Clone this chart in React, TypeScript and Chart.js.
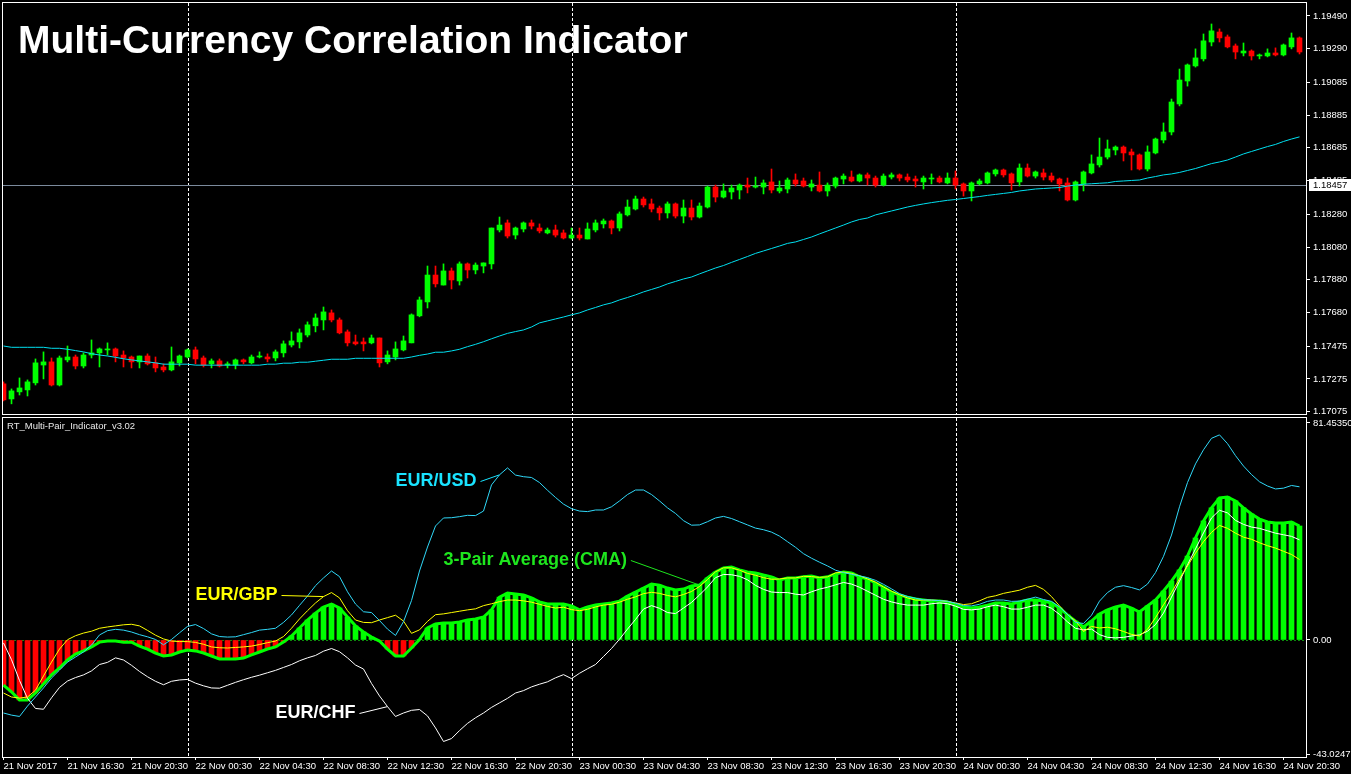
import React, { useEffect, useRef } from "react";
import { Chart, registerables } from "chart.js";

Chart.register(...registerables);

const FONT = '"Liberation Sans", Arial, sans-serif';
const GREEN = "#00ff00";
const RED = "#ff0000";
const MA_COLOR = "#00e0f0";
const USD_COLOR = "#30d8f8";
const GBP_COLOR = "#ffff00";
const CHF_COLOR = "#ffffff";

const TITLE = "Multi-Currency Correlation Indicator";
const INDICATOR_NAME = "RT_Multi-Pair_Indicator_v3.02";

// ---- time axis (M30 bars) ----
const timeTickIdx = [0, 8, 16, 24, 32, 40, 48, 56, 64, 72, 80, 88, 96, 104, 112, 120, 128, 136, 144, 152, 160];
const timeLabels = [
  "21 Nov 2017", "21 Nov 16:30", "21 Nov 20:30", "22 Nov 00:30", "22 Nov 04:30", "22 Nov 08:30", "22 Nov 12:30",
  "22 Nov 16:30", "22 Nov 20:30", "23 Nov 00:30", "23 Nov 04:30", "23 Nov 08:30", "23 Nov 12:30", "23 Nov 16:30",
  "23 Nov 20:30", "24 Nov 00:30", "24 Nov 04:30", "24 Nov 08:30", "24 Nov 12:30", "24 Nov 16:30", "24 Nov 20:30",
];
const daySeparators = [23, 71, 119];

// ---- price panel ----
const priceTicks = [1.1949, 1.1929, 1.19085, 1.18885, 1.18685, 1.18485, 1.1828, 1.1808, 1.1788, 1.1768, 1.17475, 1.17275, 1.17075];
const currentPrice = 1.18457;

const open = [
  1.17245, 1.17153, 1.17196, 1.17208, 1.17251, 1.17360, 1.17379, 1.17238, 1.17391, 1.17409,
  1.17354, 1.17421, 1.17434, 1.17452, 1.17458, 1.17421, 1.17409, 1.17379, 1.17415, 1.17373,
  1.17348, 1.17330, 1.17373, 1.17409, 1.17452, 1.17403, 1.17367, 1.17385, 1.17360, 1.17360,
  1.17391, 1.17373, 1.17409, 1.17409, 1.17403, 1.17434, 1.17482, 1.17501, 1.17543, 1.17599,
  1.17635, 1.17678, 1.17635, 1.17562, 1.17501, 1.17501, 1.17495, 1.17525, 1.17379, 1.17409,
  1.17452, 1.17495, 1.17660, 1.17745, 1.17909, 1.17848, 1.17934, 1.17873, 1.17977, 1.17940,
  1.17964, 1.17977, 1.18184, 1.18227, 1.18153, 1.18190, 1.18227, 1.18196, 1.18166, 1.18184,
  1.18166, 1.18135, 1.18153, 1.18129, 1.18184, 1.18221, 1.18239, 1.18196, 1.18276, 1.18312,
  1.18373, 1.18343, 1.18318, 1.18288, 1.18343, 1.18269, 1.18318, 1.18263, 1.18324, 1.18446,
  1.18385, 1.18416, 1.18428, 1.18458, 1.18446, 1.18446, 1.18477, 1.18422, 1.18434, 1.18489,
  1.18483, 1.18446, 1.18458, 1.18422, 1.18452, 1.18495, 1.18507, 1.18483, 1.18520, 1.18501,
  1.18458, 1.18507, 1.18520, 1.18507, 1.18495, 1.18477, 1.18495, 1.18501, 1.18471, 1.18501,
  1.18465, 1.18422, 1.18465, 1.18471, 1.18526, 1.18550, 1.18526, 1.18477, 1.18562, 1.18513,
  1.18532, 1.18513, 1.18495, 1.18471, 1.18367, 1.18465, 1.18532, 1.18581, 1.18629, 1.18672,
  1.18690, 1.18660, 1.18642, 1.18556, 1.18654, 1.18733, 1.18782, 1.18953, 1.19093, 1.19185,
  1.19228, 1.19331, 1.19392, 1.19362, 1.19307, 1.19264, 1.19276, 1.19246, 1.19246, 1.19264,
  1.19252, 1.19301, 1.19356,
];
const high = [
  1.17257, 1.17214, 1.17281, 1.17269, 1.17397, 1.17440, 1.17403, 1.17415, 1.17476, 1.17421,
  1.17434, 1.17513, 1.17464, 1.17495, 1.17464, 1.17446, 1.17415, 1.17415, 1.17428, 1.17409,
  1.17367, 1.17470, 1.17421, 1.17458, 1.17470, 1.17415, 1.17397, 1.17397, 1.17379, 1.17397,
  1.17397, 1.17421, 1.17440, 1.17428, 1.17452, 1.17507, 1.17562, 1.17580, 1.17623, 1.17672,
  1.17714, 1.17696, 1.17647, 1.17574, 1.17543, 1.17525, 1.17543, 1.17525, 1.17446, 1.17501,
  1.17537, 1.17672, 1.17775, 1.17964, 1.17964, 1.17977, 1.17952, 1.17989, 1.17983, 1.17983,
  1.17983, 1.18196, 1.18263, 1.18245, 1.18202, 1.18233, 1.18245, 1.18221, 1.18196, 1.18214,
  1.18184, 1.18196, 1.18196, 1.18227, 1.18245, 1.18251, 1.18245, 1.18294, 1.18367, 1.18391,
  1.18385, 1.18373, 1.18330, 1.18355, 1.18349, 1.18367, 1.18367, 1.18349, 1.18452, 1.18458,
  1.18465, 1.18458, 1.18465, 1.18501, 1.18507, 1.18489, 1.18556, 1.18483, 1.18501, 1.18526,
  1.18501, 1.18489, 1.18538, 1.18471, 1.18507, 1.18526, 1.18544, 1.18526, 1.18532, 1.18513,
  1.18526, 1.18532, 1.18526, 1.18526, 1.18513, 1.18513, 1.18526, 1.18513, 1.18532, 1.18544,
  1.18471, 1.18477, 1.18495, 1.18538, 1.18556, 1.18556, 1.18532, 1.18587, 1.18587, 1.18544,
  1.18556, 1.18532, 1.18501, 1.18501, 1.18483, 1.18544, 1.18642, 1.18745, 1.18733, 1.18697,
  1.18697, 1.18678, 1.18648, 1.18697, 1.18745, 1.18837, 1.18983, 1.19166, 1.19197, 1.19289,
  1.19380, 1.19441, 1.19411, 1.19374, 1.19319, 1.19325, 1.19283, 1.19258, 1.19289, 1.19295,
  1.19319, 1.19386, 1.19362,
];
const low = [
  1.17141, 1.17123, 1.17177, 1.17171, 1.17238, 1.17275, 1.17232, 1.17232, 1.17379, 1.17336,
  1.17342, 1.17403, 1.17348, 1.17421, 1.17379, 1.17348, 1.17342, 1.17342, 1.17360, 1.17318,
  1.17318, 1.17324, 1.17354, 1.17403, 1.17367, 1.17348, 1.17342, 1.17348, 1.17342, 1.17336,
  1.17367, 1.17367, 1.17403, 1.17379, 1.17385, 1.17409, 1.17470, 1.17464, 1.17531, 1.17562,
  1.17574, 1.17623, 1.17550, 1.17476, 1.17482, 1.17446, 1.17489, 1.17348, 1.17367, 1.17391,
  1.17446, 1.17495, 1.17654, 1.17708, 1.17836, 1.17848, 1.17824, 1.17848, 1.17891, 1.17916,
  1.17922, 1.17946, 1.18172, 1.18135, 1.18129, 1.18172, 1.18190, 1.18166, 1.18160, 1.18141,
  1.18129, 1.18129, 1.18123, 1.18129, 1.18172, 1.18196, 1.18160, 1.18178, 1.18269, 1.18306,
  1.18324, 1.18294, 1.18245, 1.18257, 1.18257, 1.18227, 1.18245, 1.18257, 1.18318, 1.18355,
  1.18379, 1.18373, 1.18373, 1.18410, 1.18440, 1.18404, 1.18410, 1.18410, 1.18410, 1.18452,
  1.18446, 1.18422, 1.18416, 1.18391, 1.18440, 1.18465, 1.18477, 1.18477, 1.18458, 1.18446,
  1.18452, 1.18495, 1.18483, 1.18477, 1.18446, 1.18434, 1.18465, 1.18471, 1.18465, 1.18434,
  1.18391, 1.18361, 1.18458, 1.18465, 1.18513, 1.18507, 1.18428, 1.18452, 1.18507, 1.18501,
  1.18489, 1.18477, 1.18422, 1.18361, 1.18361, 1.18422, 1.18526, 1.18568, 1.18617, 1.18642,
  1.18605, 1.18550, 1.18550, 1.18544, 1.18648, 1.18715, 1.18764, 1.18941, 1.19062, 1.19178,
  1.19215, 1.19307, 1.19331, 1.19295, 1.19228, 1.19246, 1.19221, 1.19228, 1.19240, 1.19246,
  1.19246, 1.19289, 1.19258,
];
const close = [
  1.17147, 1.17202, 1.17220, 1.17257, 1.17373, 1.17379, 1.17238, 1.17403, 1.17409, 1.17354,
  1.17421, 1.17434, 1.17458, 1.17458, 1.17415, 1.17403, 1.17379, 1.17415, 1.17367, 1.17342,
  1.17330, 1.17379, 1.17415, 1.17452, 1.17397, 1.17360, 1.17385, 1.17354, 1.17367, 1.17391,
  1.17379, 1.17409, 1.17415, 1.17397, 1.17440, 1.17489, 1.17507, 1.17556, 1.17605, 1.17647,
  1.17684, 1.17635, 1.17556, 1.17495, 1.17489, 1.17489, 1.17525, 1.17373, 1.17421, 1.17458,
  1.17507, 1.17666, 1.17757, 1.17909, 1.17855, 1.17934, 1.17879, 1.17977, 1.17940, 1.17970,
  1.17983, 1.18196, 1.18214, 1.18147, 1.18196, 1.18227, 1.18208, 1.18178, 1.18184, 1.18153,
  1.18135, 1.18153, 1.18135, 1.18190, 1.18227, 1.18239, 1.18196, 1.18282, 1.18324, 1.18373,
  1.18337, 1.18312, 1.18288, 1.18343, 1.18269, 1.18318, 1.18263, 1.18330, 1.18446, 1.18385,
  1.18422, 1.18440, 1.18458, 1.18446, 1.18452, 1.18471, 1.18428, 1.18440, 1.18489, 1.18465,
  1.18452, 1.18465, 1.18422, 1.18458, 1.18501, 1.18513, 1.18483, 1.18520, 1.18501, 1.18458,
  1.18513, 1.18520, 1.18501, 1.18489, 1.18483, 1.18501, 1.18501, 1.18477, 1.18501, 1.18458,
  1.18422, 1.18471, 1.18483, 1.18532, 1.18550, 1.18520, 1.18471, 1.18562, 1.18513, 1.18538,
  1.18507, 1.18489, 1.18465, 1.18367, 1.18477, 1.18538, 1.18587, 1.18629, 1.18678, 1.18690,
  1.18654, 1.18642, 1.18556, 1.18660, 1.18739, 1.18782, 1.18965, 1.19099, 1.19191, 1.19234,
  1.19338, 1.19399, 1.19356, 1.19301, 1.19270, 1.19276, 1.19246, 1.19252, 1.19264, 1.19252,
  1.19313, 1.19356, 1.19270,
];
const ma = [
  1.17476, 1.17468, 1.17468, 1.17468, 1.17468, 1.17468, 1.17462, 1.17462, 1.17456, 1.17448,
  1.17440, 1.17429, 1.17421, 1.17415, 1.17407, 1.17398, 1.17391, 1.17385, 1.17379, 1.17373,
  1.17365, 1.17365, 1.17365, 1.17365, 1.17359, 1.17359, 1.17359, 1.17359, 1.17359, 1.17359,
  1.17359, 1.17359, 1.17359, 1.17365, 1.17365, 1.17371, 1.17371, 1.17377, 1.17377, 1.17383,
  1.17389, 1.17395, 1.17395, 1.17395, 1.17401, 1.17401, 1.17401, 1.17401, 1.17401, 1.17401,
  1.17401, 1.17409, 1.17419, 1.17427, 1.17438, 1.17438, 1.17446, 1.17456, 1.17472, 1.17486,
  1.17502, 1.17520, 1.17537, 1.17553, 1.17564, 1.17574, 1.17592, 1.17617, 1.17629, 1.17641,
  1.17653, 1.17666, 1.17678, 1.17696, 1.17711, 1.17727, 1.17739, 1.17757, 1.17772, 1.17788,
  1.17806, 1.17821, 1.17836, 1.17855, 1.17870, 1.17885, 1.17897, 1.17916, 1.17934, 1.17952,
  1.17967, 1.17986, 1.18004, 1.18022, 1.18041, 1.18056, 1.18071, 1.18086, 1.18102, 1.18111,
  1.18126, 1.18141, 1.18160, 1.18178, 1.18196, 1.18214, 1.18233, 1.18248, 1.18257, 1.18276,
  1.18288, 1.18300, 1.18312, 1.18324, 1.18334, 1.18343, 1.18351, 1.18358, 1.18365, 1.18370,
  1.18376, 1.18382, 1.18388, 1.18395, 1.18401, 1.18407, 1.18413, 1.18422, 1.18428, 1.18434,
  1.18437, 1.18440, 1.18443, 1.18452, 1.18458, 1.18463, 1.18466, 1.18469, 1.18472, 1.18480,
  1.18483, 1.18486, 1.18489, 1.18501, 1.18510, 1.18520, 1.18526, 1.18535, 1.18547, 1.18559,
  1.18574, 1.18589, 1.18599, 1.18611, 1.18629, 1.18648, 1.18663, 1.18678, 1.18693, 1.18706,
  1.18724, 1.18739, 1.18752,
];

// ---- indicator panel ----
const indTicks = [81.4535, 0, -43.02477];
const indTickLabels = ["81.45350", "0.00", "-43.02477"];

const usd = [
  -27.4, -28.2, -28.7, -24.8, -21.4, -18.0, -14.3, -11.3, -8.3, -6.4,
  -4.5, -1.9, 1.9, 3.5, 4.0, 3.7, 3.0, 2.0, 1.2, 0.2,
  -1.8, 0.2, 2.7, 5.1, 5.8, 4.3, 2.3, 1.3, 1.1, 1.2,
  2.0, 2.8, 3.7, 4.0, 4.4, 6.6, 9.4, 13.0, 16.5, 20.4,
  23.3, 25.9, 23.8, 18.1, 13.5, 10.6, 10.3, 7.3, 4.1, 1.7,
  6.9, 14.8, 25.9, 34.9, 42.8, 45.8, 45.9, 46.3, 46.8, 46.7,
  48.4, 58.2, 62.0, 64.6, 61.9, 61.3, 61.0, 59.1, 56.2, 53.5,
  51.0, 49.3, 48.4, 48.2, 48.8, 48.8, 50.0, 52.2, 54.6, 56.3,
  56.3, 54.6, 52.2, 49.6, 47.5, 44.8, 43.1, 43.2, 44.4, 45.8,
  46.4, 45.6, 44.4, 43.2, 42.0, 41.4, 40.5, 39.0, 36.9, 34.8,
  32.4, 30.7, 29.2, 27.8, 26.2, 25.3, 24.7, 24.1, 23.4, 22.4,
  20.9, 19.2, 17.4, 16.3, 15.7, 15.1, 15.0, 14.8, 14.5, 13.8,
  12.9, 12.8, 13.4, 14.5, 15.0, 15.0, 14.5, 14.6, 15.3, 16.1,
  15.2, 14.5, 12.4, 9.6, 6.6, 6.2, 9.3, 14.6, 17.8, 19.8,
  20.4, 19.7, 18.8, 21.0, 25.3, 31.4, 39.4, 50.0, 59.1, 66.1,
  71.4, 75.7, 77.0, 73.7, 69.2, 65.3, 62.1, 59.4, 57.8, 56.7,
  57.0, 58.0, 57.5,
];
const gbp = [
  -19.9, -21.4, -21.8, -21.4, -18.8, -13.5, -8.3, -3.4, 0.1, 1.6,
  2.6, 3.3, 4.4, 4.9, 5.3, 5.7, 5.9, 5.3, 3.6, 1.8,
  0.4, -0.4, -0.6, -0.6, -0.9, -1.6, -2.6, -2.9, -3.0, -2.8,
  -2.6, -2.3, -1.7, -1.0, -0.4, 1.3, 4.4, 7.9, 11.0, 13.9,
  16.3, 17.8, 15.8, 11.0, 7.5, 6.6, 6.5, 7.5, 8.4, 9.3,
  7.1, 2.5, 3.8, 7.0, 9.5, 9.8, 10.3, 10.8, 11.3, 11.7,
  12.9, 13.6, 14.4, 15.0, 15.0, 14.7, 14.2, 13.4, 12.6, 12.0,
  12.3, 11.4, 11.0, 11.5, 12.4, 13.1, 13.4, 14.2, 15.3, 16.2,
  17.4, 17.9, 17.5, 16.7, 16.2, 17.1, 18.2, 20.1, 22.7, 25.6,
  27.1, 27.1, 26.2, 25.0, 24.3, 23.4, 22.8, 22.9, 23.3, 23.3,
  23.9, 23.8, 23.5, 23.7, 25.2, 25.5, 25.0, 24.1, 22.9, 21.7,
  19.9, 18.3, 17.0, 15.8, 15.0, 15.0, 15.0, 14.8, 14.5, 13.9,
  13.3, 13.6, 14.7, 16.0, 16.6, 17.5, 18.1, 18.7, 19.8, 20.5,
  19.0, 16.3, 12.8, 9.5, 7.2, 3.2, 5.1, 4.5, 4.8, 4.2,
  3.2, 2.1, 1.5, 4.0, 8.4, 13.2, 17.8, 23.0, 27.8, 32.6,
  36.9, 40.4, 43.0, 41.9, 40.1, 38.6, 37.8, 36.5, 35.4, 34.5,
  33.3, 32.1, 30.2,
];
const chf = [
  -1.1, -7.4, -15.2, -21.9, -25.7, -26.0, -21.7, -17.8, -15.4, -14.1,
  -13.1, -11.6, -9.2, -8.4, -6.7, -7.5, -9.5, -11.8, -13.8, -15.5,
  -16.8, -15.5, -15.0, -14.8, -16.2, -17.2, -18.0, -18.1, -17.0, -15.9,
  -14.9, -14.0, -13.2, -12.3, -11.4, -10.3, -9.2, -7.8, -6.7, -5.8,
  -4.2, -3.2, -4.4, -6.7, -9.4, -10.9, -16.3, -21.0, -25.0, -28.7,
  -27.4, -26.4, -26.1, -28.5, -33.0, -38.1, -37.0, -34.0, -31.3, -29.2,
  -27.4, -25.3, -23.6, -21.9, -19.9, -19.0, -17.6, -16.6, -15.7, -14.2,
  -13.0, -14.5, -12.5, -10.8, -9.2, -6.2, -3.2, 0.3, 4.1, 7.7,
  11.6, 12.9, 11.9, 10.3, 9.9, 12.0, 14.1, 16.9, 19.9, 23.4,
  24.6, 24.5, 23.9, 22.6, 20.5, 19.0, 18.0, 17.8, 17.8, 17.2,
  16.9, 18.1, 19.1, 19.8, 20.7, 21.6, 21.0, 19.8, 18.3, 16.8,
  15.3, 14.3, 13.6, 13.1, 13.1, 13.1, 13.6, 13.9, 13.6, 12.7,
  11.5, 11.3, 11.6, 12.5, 13.1, 12.5, 11.6, 11.6, 12.3, 13.1,
  13.1, 11.9, 9.6, 6.8, 4.4, 3.8, 4.1, 2.0, 1.0, 0.8,
  1.0, 1.5, 1.9, 3.3, 5.8, 10.1, 16.1, 22.1, 28.2, 34.2,
  40.2, 45.8, 48.7, 47.7, 44.9, 43.4, 42.4, 41.9, 41.0, 40.1,
  39.5, 38.9, 37.6,
];
const avg = [
  -16.9, -19.5, -22.5, -22.5, -19.9, -16.5, -13.1, -10.5, -7.5, -5.3,
  -4.1, -2.6, -0.8, -0.4, -0.4, -0.8, -0.8, -2.3, -3.4, -4.9,
  -6.0, -5.6, -4.5, -3.8, -4.1, -4.9, -6.0, -7.1, -7.1, -7.1,
  -6.8, -5.6, -4.5, -3.4, -2.6, -0.8, 1.5, 4.5, 7.5, 10.1,
  12.4, 13.5, 12.0, 8.6, 5.3, 3.0, 1.1, -0.4, -3.4, -6.0,
  -6.0, -3.0, 0.2, 4.5, 6.0, 6.4, 6.4, 6.8, 7.5, 7.9,
  8.6, 11.3, 16.1, 17.6, 17.3, 16.9, 15.8, 14.3, 13.5, 13.5,
  13.5, 12.8, 11.3, 12.4, 13.1, 13.5, 13.9, 14.6, 16.5, 18.0,
  19.5, 21.0, 20.6, 19.5, 18.8, 19.1, 20.3, 20.6, 23.3, 25.5,
  27.0, 27.4, 26.3, 25.5, 25.2, 24.4, 23.7, 22.5, 23.3, 23.3,
  23.7, 24.0, 23.3, 23.7, 24.8, 25.5, 25.2, 23.7, 22.9, 21.4,
  19.9, 18.0, 16.9, 16.1, 15.4, 15.0, 14.6, 14.6, 14.3, 13.1,
  12.4, 12.0, 12.4, 13.1, 13.9, 13.9, 13.5, 14.3, 15.0, 15.0,
  14.6, 13.9, 12.0, 9.4, 7.1, 4.9, 7.1, 9.8, 11.3, 12.4,
  13.1, 12.0, 10.5, 12.8, 15.0, 18.4, 22.1, 26.3, 31.5, 38.3,
  44.7, 49.6, 53.3, 53.7, 52.2, 49.6, 47.3, 45.4, 44.3, 43.9,
  43.9, 44.3, 42.8,
];

const seriesMap: Record<string, number[]> = { usd, gbp, chf, avg };

const notes = [
  { text: "EUR/USD", color: "#19e3ff", atIndex: 49, atValue: 59.7, series: "usd", pointIndex: 62 },
  { text: "3-Pair Average (CMA)", color: "#1ee61e", atIndex: 55, atValue: 30.0, series: "avg", pointIndex: 87 },
  { text: "EUR/GBP", color: "#ffff00", atIndex: 24, atValue: 16.9, series: "gbp", pointIndex: 40 },
  { text: "EUR/CHF", color: "#ffffff", atIndex: 34, atValue: -27.4, series: "chf", pointIndex: 48 },
];

// x range chosen so one bar = 8px across the 1304px plot
const X_MIN = -0.1875;
const X_MAX = 162.8125;

const tickFont = { family: FONT, size: 9.5 };

function drawSeparators(chart: any) {
  const { ctx, chartArea: a, scales } = chart;
  ctx.save();
  ctx.strokeStyle = "#ffffff";
  ctx.lineWidth = 1;
  ctx.setLineDash([3, 2]);
  daySeparators.forEach((i) => {
    const x = Math.round(scales.x.getPixelForValue(i)) + 0.5;
    ctx.beginPath();
    ctx.moveTo(x, a.top);
    ctx.lineTo(x, a.bottom);
    ctx.stroke();
  });
  ctx.restore();
}

function drawBorder(chart: any) {
  const { ctx, chartArea: a } = chart;
  ctx.save();
  ctx.strokeStyle = "#ffffff";
  ctx.lineWidth = 1;
  ctx.setLineDash([]);
  ctx.strokeRect(a.left + 0.5, a.top - 0.5, a.right - a.left, a.bottom - a.top + 1);
  ctx.restore();
}

const topPlugin = {
  id: "topDecor",
  beforeDatasetsDraw(chart: any) {
    drawSeparators(chart);
    const { ctx, chartArea: a, scales } = chart;
    const py = Math.round(scales.y.getPixelForValue(currentPrice)) + 0.5;
    ctx.save();
    ctx.strokeStyle = "#7b8a9c";
    ctx.lineWidth = 1;
    ctx.beginPath();
    ctx.moveTo(a.left, py);
    ctx.lineTo(a.right, py);
    ctx.stroke();
    ctx.restore();
  },
  afterDraw(chart: any) {
    const { ctx, chartArea: a, scales } = chart;
    drawBorder(chart);
    const py = Math.round(scales.y.getPixelForValue(currentPrice));
    ctx.save();
    ctx.fillStyle = "#ffffff";
    ctx.fillRect(a.right + 3, py - 6, 45, 12);
    ctx.fillStyle = "#000000";
    ctx.font = `9.5px ${FONT}`;
    ctx.textBaseline = "middle";
    ctx.textAlign = "left";
    ctx.fillText(currentPrice.toFixed(5), a.right + 7, py + 0.5);
    ctx.fillStyle = "#ffffff";
    ctx.font = `bold 39px ${FONT}`;
    ctx.textBaseline = "alphabetic";
    ctx.fillText(TITLE, a.left + 16, a.top + 50);
    ctx.restore();
  },
};

const botPlugin = {
  id: "botDecor",
  beforeDatasetsDraw(chart: any) {
    drawSeparators(chart);
    const { ctx, chartArea: a, scales } = chart;
    const y0 = Math.round(scales.y.getPixelForValue(0)) + 0.5;
    ctx.save();
    ctx.strokeStyle = "#0a8a0a";
    ctx.lineWidth = 1;
    ctx.setLineDash([2, 2]);
    ctx.beginPath();
    ctx.moveTo(a.left, y0);
    ctx.lineTo(a.right, y0);
    ctx.stroke();
    ctx.restore();
  },
  afterDatasetsDraw(chart: any) {
    const { ctx, scales } = chart;
    const { x, y } = scales;
    ctx.save();
    ctx.font = `bold 18px ${FONT}`;
    ctx.textBaseline = "middle";
    ctx.textAlign = "left";
    notes.forEach((n) => {
      const tx = x.getPixelForValue(n.atIndex);
      const ty = y.getPixelForValue(n.atValue);
      ctx.fillStyle = n.color;
      ctx.fillText(n.text, tx, ty);
      const w = ctx.measureText(n.text).width;
      const s = seriesMap[n.series];
      const px = x.getPixelForValue(n.pointIndex);
      const pv = y.getPixelForValue(s[n.pointIndex]);
      ctx.strokeStyle = n.color;
      ctx.lineWidth = 1;
      ctx.beginPath();
      ctx.moveTo(tx + w + 4, Math.round(ty) + 0.5);
      ctx.lineTo(px, pv);
      ctx.stroke();
    });
    ctx.restore();
  },
  afterDraw(chart: any) {
    const { ctx, chartArea: a } = chart;
    drawBorder(chart);
    ctx.save();
    ctx.fillStyle = "#e8e8e8";
    ctx.font = `9.5px ${FONT}`;
    ctx.textBaseline = "middle";
    ctx.textAlign = "left";
    ctx.fillText(INDICATOR_NAME, a.left + 5, a.top + 8);
    ctx.restore();
  },
};

function yAxisFit(scale: any) {
  scale.width = 45;
  scale.paddingTop = 0;
  scale.paddingBottom = 0;
}

export default function App() {
  const topRef = useRef<HTMLCanvasElement>(null);
  const botRef = useRef<HTMLCanvasElement>(null);

  useEffect(() => {
    document.body.style.margin = "0";
    document.body.style.background = "#000";

    const candleColors = close.map((c, i) => (c >= open[i] ? GREEN : RED));

    const top = new Chart(topRef.current as HTMLCanvasElement, {
      type: "bar",
      data: {
        datasets: [
          {
            type: "line",
            data: ma.map((v, i) => ({ x: i, y: v })),
            borderColor: MA_COLOR,
            borderWidth: 1,
            pointRadius: 0,
            tension: 0,
            order: 0,
          } as any,
          {
            type: "bar",
            data: open.map((o, i) => ({ x: i, y: [o, close[i]] })),
            backgroundColor: candleColors,
            borderWidth: 0,
            barThickness: 5,
            minBarLength: 1,
            grouped: false,
            order: 1,
          } as any,
          {
            type: "bar",
            data: low.map((l, i) => ({ x: i, y: [l, high[i]] })),
            backgroundColor: candleColors,
            borderWidth: 0,
            barThickness: 1,
            grouped: false,
            order: 2,
          } as any,
        ],
      },
      options: {
        responsive: false,
        animation: false,
        devicePixelRatio: 1,
        events: [],
        layout: { padding: { left: 2, top: 3, right: 0, bottom: 2 } },
        plugins: { legend: { display: false }, tooltip: { enabled: false } },
        scales: {
          x: { type: "linear", min: X_MIN, max: X_MAX, offset: false, display: false },
          y: {
            position: "right",
            min: 1.17061,
            max: 1.19569,
            afterFit: yAxisFit,
            afterBuildTicks: (s: any) => {
              s.ticks = priceTicks.map((v) => ({ value: v }));
            },
            ticks: {
              color: "#ffffff",
              font: tickFont,
              padding: 3,
              autoSkip: false,
              callback: (v: any) => Number(v).toFixed(5),
            },
            grid: { display: true, drawOnChartArea: false, drawTicks: true, tickLength: 4, color: "#ffffff" },
            border: { display: false },
          },
        },
      } as any,
      plugins: [topPlugin],
    });

    const bot = new Chart(botRef.current as HTMLCanvasElement, {
      type: "bar",
      data: {
        datasets: [
          { type: "line", data: usd.map((v, i) => ({ x: i, y: v })), borderColor: USD_COLOR, borderWidth: 1, pointRadius: 0, tension: 0, order: 0 } as any,
          { type: "line", data: gbp.map((v, i) => ({ x: i, y: v })), borderColor: GBP_COLOR, borderWidth: 1, pointRadius: 0, tension: 0, order: 1 } as any,
          { type: "line", data: chf.map((v, i) => ({ x: i, y: v })), borderColor: CHF_COLOR, borderWidth: 1, pointRadius: 0, tension: 0, order: 2 } as any,
          { type: "line", data: avg.map((v, i) => ({ x: i, y: v })), borderColor: GREEN, borderWidth: 3, pointRadius: 0, tension: 0, order: 3 } as any,
          {
            type: "bar",
            data: avg.map((v, i) => ({ x: i, y: v })),
            backgroundColor: avg.map((v) => (v >= 0 ? GREEN : RED)),
            borderWidth: 0,
            barThickness: 5,
            grouped: false,
            order: 4,
          } as any,
        ],
      },
      options: {
        responsive: false,
        animation: false,
        devicePixelRatio: 1,
        events: [],
        layout: { padding: { left: 2, top: 2, right: 0, bottom: 0 } },
        plugins: { legend: { display: false }, tooltip: { enabled: false } },
        scales: {
          x: {
            type: "linear",
            min: X_MIN,
            max: X_MAX,
            offset: false,
            afterFit: (s: any) => {
              s.height = 17;
              s.paddingLeft = 0;
              s.paddingRight = 0;
            },
            afterBuildTicks: (s: any) => {
              s.ticks = timeTickIdx.map((v) => ({ value: v }));
            },
            ticks: {
              color: "#ffffff",
              font: tickFont,
              align: "start",
              maxRotation: 0,
              minRotation: 0,
              autoSkip: false,
              padding: 1,
              callback: (_v: any, i: number) => timeLabels[i],
            },
            grid: { display: true, offset: false, drawOnChartArea: false, drawTicks: true, tickLength: 3, color: "#ffffff" },
            border: { display: false },
          },
          y: {
            position: "right",
            min: -43.92,
            max: 83.33,
            afterFit: yAxisFit,
            afterBuildTicks: (s: any) => {
              s.ticks = indTicks.map((v) => ({ value: v }));
            },
            ticks: {
              color: "#ffffff",
              font: tickFont,
              padding: 3,
              autoSkip: false,
              callback: (_v: any, i: number) => indTickLabels[i],
            },
            grid: { display: true, drawOnChartArea: false, drawTicks: true, tickLength: 4, color: "#ffffff" },
            border: { display: false },
          },
        },
      } as any,
      plugins: [botPlugin],
    });

    return () => {
      top.destroy();
      bot.destroy();
    };
  }, []);

  return (
    <div style={{ position: "fixed", left: 0, top: 0, width: 1351, height: 774, background: "#000", overflow: "hidden" }}>
      <canvas ref={topRef} width={1351} height={416} style={{ position: "absolute", left: 0, top: 0 }} />
      <canvas ref={botRef} width={1351} height={358} style={{ position: "absolute", left: 0, top: 416 }} />
    </div>
  );
}
